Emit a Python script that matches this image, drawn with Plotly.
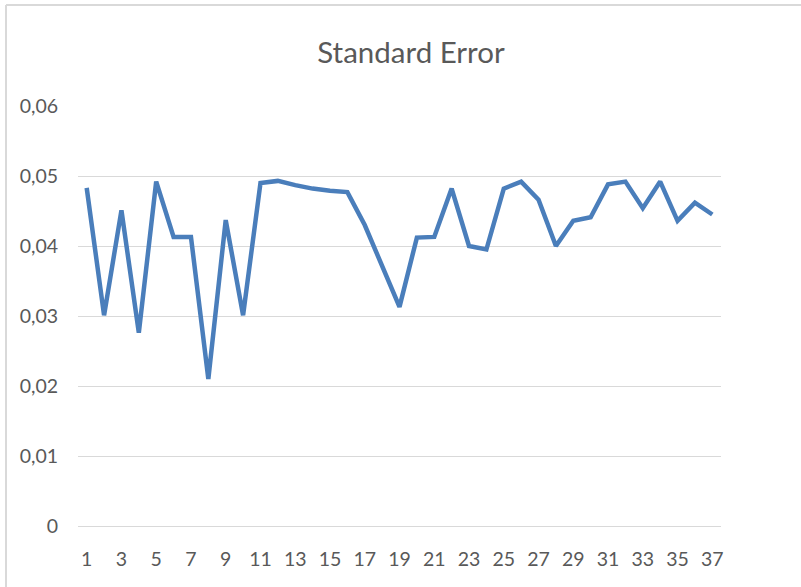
import plotly.graph_objects as go

# ---- data ----
x_values = list(range(1, 38))
std_error = [
    0.0483, 0.0301, 0.0451, 0.0276, 0.0492, 0.0413, 0.0413, 0.0210, 0.0437, 0.0301,
    0.0490, 0.0493, 0.0487, 0.0482, 0.0479, 0.0477, 0.0430, 0.0372, 0.0313, 0.0412,
    0.0413, 0.0482, 0.0400, 0.0395, 0.0482, 0.0492, 0.0466, 0.0400, 0.0436, 0.0441,
    0.0488, 0.0492, 0.0454, 0.0492, 0.0436, 0.0462, 0.0445,
]
y_tick_vals = [0, 0.01, 0.02, 0.03, 0.04, 0.05, 0.06]
y_tick_text = ["0", "0,01", "0,02", "0,03", "0,04", "0,05", "0,06"]
title_text = "Standard Error"

# ---- layout constants (body margin removed via post_script) ----
W, H = 801, 587
L, T = 78, 106
pw, ph = 643, 420
R = W - L - pw
B = H - T - ph
text_color = "#595959"
grid_color = "#d9d9d9"
font_family = "Lato, 'Open Sans', sans-serif"

fig = go.Figure()
fig.add_trace(go.Scatter(
    x=x_values, y=std_error, mode="lines",
    line=dict(color="#4a7ebb", width=4.5),
    hoverinfo="skip", showlegend=False,
))

def px_to_paper_x(px):
    return (px - L) / pw

def px_to_paper_y(py):
    return (T + ph - py) / ph

# outer chart border (only top and left visible in the crop)
border = dict(color=grid_color, width=2)
fig.add_shape(type="line", xref="paper", yref="paper",
              x0=px_to_paper_x(6), x1=px_to_paper_x(810),
              y0=px_to_paper_y(5), y1=px_to_paper_y(5), line=border)
fig.add_shape(type="line", xref="paper", yref="paper",
              x0=px_to_paper_x(6), x1=px_to_paper_x(6),
              y0=px_to_paper_y(5), y1=px_to_paper_y(600), line=border)

fig.update_layout(
    width=W, height=H,
    margin=dict(l=L, r=R, t=T, b=B),
    paper_bgcolor="white", plot_bgcolor="white",
    font=dict(family=font_family, color=text_color, size=19),
    title=dict(text=title_text, x=411 / W, xref="container", xanchor="center",
               y=1 - 53 / H, yref="container", yanchor="middle",
               font=dict(size=29.5, color=text_color, family=font_family)),
    xaxis=dict(
        range=[0.5, 37.5], tick0=1, dtick=2, tickmode="linear",
        showgrid=False, zeroline=False, showline=False, ticks="",
        ticklabelstandoff=19, tickfont=dict(size=19.5, color=text_color),
        fixedrange=True,
    ),
    yaxis=dict(
        range=[0, 0.06], tickmode="array", tickvals=y_tick_vals, ticktext=y_tick_text,
        showgrid=True, gridcolor=grid_color, gridwidth=1.3,
        zeroline=True, zerolinecolor=grid_color, zerolinewidth=1.3,
        showline=False, ticks="", ticklabelstandoff=19,
        tickfont=dict(size=19.5, color=text_color), fixedrange=True,
    ),
)

fig.write_html("out.html", config={"displayModeBar": False},
               post_script="document.body.style.margin='0';")
